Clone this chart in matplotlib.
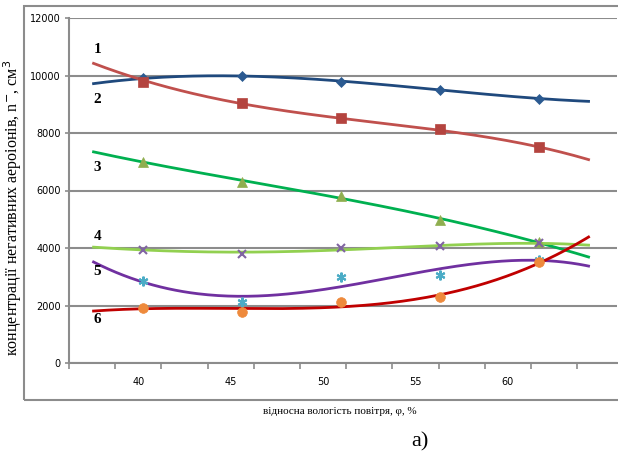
import numpy as np
import matplotlib
matplotlib.use("Agg")
import matplotlib.pyplot as plt
from matplotlib.patches import Rectangle

# measured points (humidity, %)
humidity = [40, 45, 50, 55, 60]
s1 = [9900, 9990, 9790, 9500, 9190]
s2 = [9790, 9040, 8520, 8130, 7510]
s3 = [6980, 6280, 5800, 4980, 4200]
s4 = [3920, 3780, 3990, 4060, 4170]
s5 = [2860, 2130, 2990, 3060, 3600]
s6 = [1910, 1780, 2110, 2300, 3500]

# trend curves (x from 37.5 to 62.5)
trend_x = [37.5, 40, 45, 50, 55, 60, 62.5]
t1 = [9720, 9890, 9990, 9800, 9500, 9200, 9100]
t2 = [10420, 9840, 9020, 8500, 8110, 7500, 7080]
t3 = [7340, 7000, 6330, 5760, 5000, 4200, 3680]
t4 = [4030, 3930, 3860, 3930, 4090, 4160, 4100]
t5 = [3510, 2820, 2320, 2640, 3300, 3550, 3380]
t6 = [1810, 1880, 1900, 1950, 2370, 3480, 4380]

xtick_labels = ["40", "45", "50", "55", "60"]
curve_labels = ["1", "2", "3", "4", "5", "6"]
label_y = [10900, 9170, 6810, 4400, 3170, 1500]

series = [
    (s1, t1, "#1F497D", "D", "#2B5A91", 5.5),
    (s2, t2, "#C0504D", "s", "#B4443F", 6.5),
    (s3, t3, "#00B050", "^", "#8FAE4F", 6.5),
    (s4, t4, "#92D050", "x", "#8064A2", 6),
    (s5, t5, "#7030A0", (6, 2, 0), "#4BACC6", 7),
    (s6, t6, "#C00000", "o", "#EE8A3C", 7),
]

fig = plt.figure(figsize=(6.18, 4.55), dpi=100)
ax = fig.add_axes([69 / 618, 1 - 363 / 455, 548 / 618, 345 / 455])

# outer chart frame
fig.patches.append(Rectangle((24 / 618, 1 - 400 / 455), 0.99, 394 / 455,
                             transform=fig.transFigure, fill=False,
                             edgecolor="#8C8C8C", lw=1.5))

xs = np.linspace(trend_x[0], trend_x[-1], 200)
for vals, tvals, lc, mk, mc, ms in series:
    coef = np.polyfit(trend_x, tvals, 4)
    ax.plot(xs, np.polyval(coef, xs), color=lc, lw=2.0, zorder=3)
    ax.plot(humidity, vals, linestyle="none", marker=mk, color=mc,
            markersize=ms, markeredgewidth=1.5 if mk in ("x", (6, 2, 0)) else 0.5,
            zorder=4)

for lab, yy in zip(curve_labels, label_y):
    ax.text(37.7, yy, lab, fontsize=11, fontweight="bold",
            family="Liberation Serif", ha="center", va="center")

x0 = 36.26
step = 46.2 / 19.8
ax.set_xlim(x0, x0 + 548 / 19.8)
ax.set_ylim(0, 12000)
ax.set_xticks([x0 + step * k for k in range(12)], minor=True)
ax.set_xticks([x0 + step * (2 * k + 1.5) for k in range(len(xtick_labels))])
ax.set_xticklabels(xtick_labels)
ax.set_yticks(range(0, 12001, 2000))
ax.tick_params(axis="x", which="major", length=0, pad=10, labelsize=7)
ax.tick_params(axis="x", which="minor", length=4, width=1.2, color="#8C8C8C")
ax.tick_params(axis="y", length=3, width=1.2, color="#8C8C8C", labelsize=7, pad=3)
ax.grid(axis="y", color="#8C8C8C", lw=1.5)
ax.set_axisbelow(True)
for side in ("top", "right"):
    ax.spines[side].set_visible(False)
for side in ("left", "bottom"):
    ax.spines[side].set_color("#8C8C8C")
    ax.spines[side].set_linewidth(1.5)

fig.text(13 / 618, 1 - 208 / 455,
         "концентрації негативних аероіонів, n$^{-}$, см$^{3}$",
         rotation=90, ha="center", va="center", fontsize=11.5,
         family="Liberation Serif")
fig.text(340 / 618, 1 - 411 / 455, "відносна вологість повітря, φ, %",
         ha="center", va="center", fontsize=8, family="Liberation Serif")
fig.text(420 / 618, 1 - 442 / 455, "а)", ha="center", va="center",
         fontsize=16, family="Liberation Serif")

fig.savefig("out.png", dpi=100)
